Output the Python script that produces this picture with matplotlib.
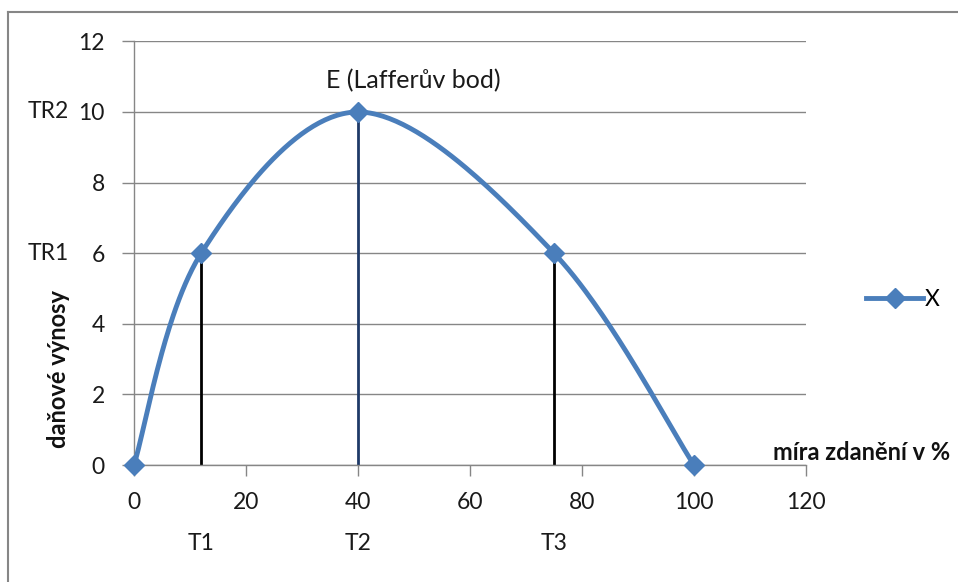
import matplotlib
matplotlib.use("Agg")
import matplotlib.pyplot as plt
from matplotlib.lines import Line2D
import numpy as np

plt.rcParams['font.family'] = ['Lato', 'DejaVu Sans']

# Laffer curve points: tax rate (%) vs. tax revenue
rate = [0, 12, 40, 75, 100]
revenue = [0, 6, 10, 6, 0]

# drop lines from the named points down to the x axis
drop_x = [12, 40, 75]
drop_top = [6, 10, 6]
drop_colors = ["black", "#1F3A68", "black"]

xticks = [0, 20, 40, 60, 80, 100, 120]
yticks = [0, 2, 4, 6, 8, 10, 12]
t_labels = ["T1", "T2", "T3"]
tr_labels = ["TR1", "TR2"]
tr_levels = [6, 10]

LINE = "#4A7EBB"
GRID = "#868686"
TXT = "#1a1a1a"
FS = 18
FS_TICK = 16.5
FS_BOLD = 17

W, H = 958, 582
fig = plt.figure(figsize=(W / 100, H / 100), dpi=100)
ax = fig.add_axes([134 / W, 1 - 465 / H, 672 / W, (465 - 41.4) / H])
ax.set_xlim(0, 120)
ax.set_ylim(0, 12)


def smooth(xs, ys, xr, yr, n=60):
    # Bezier smoothing like a spreadsheet "smoothed line", done in scaled space
    px = np.array(xs, float) / xr
    py = np.array(ys, float) / yr
    P = np.column_stack([px, py])
    P = np.vstack([P[0], P, P[-1]])
    out = []
    t = np.linspace(0, 1, n)[:, None]
    for i in range(1, len(P) - 2):
        p0, p1, p2, p3 = P[i - 1], P[i], P[i + 1], P[i + 2]
        c1 = p1 + (p2 - p0) / 6
        c2 = p2 - (p3 - p1) / 6
        seg = ((1 - t) ** 3) * p1 + 3 * ((1 - t) ** 2) * t * c1 + 3 * (1 - t) * t ** 2 * c2 + t ** 3 * p2
        out.append(seg)
    out = np.vstack(out)
    return out[:, 0] * xr, out[:, 1] * yr


# units per pixel on each axis, so the curve is smoothed in screen proportions
sx, sy = smooth(rate, revenue, 120 / 672, 12 / 423.6)

ax.vlines(drop_x, 0, drop_top, colors=drop_colors, linewidth=2, zorder=2)
ax.plot(sx, sy, color=LINE, linewidth=3.5, solid_capstyle="round", zorder=3, clip_on=False)
ax.plot(rate, revenue, linestyle="none", marker="D", markersize=10.5, color=LINE,
        zorder=4, clip_on=False)

ax.set_xticks(xticks)
ax.set_yticks(yticks)
ax.yaxis.grid(True, color=GRID, linewidth=1)
ax.set_axisbelow(True)
for s in ["top", "right"]:
    ax.spines[s].set_visible(False)
for s in ["left", "bottom"]:
    ax.spines[s].set_color(GRID)
    ax.spines[s].set_linewidth(1)
ax.tick_params(axis="x", direction="out", length=8, width=1, color=GRID, pad=11.5,
               labelsize=FS_TICK, labelcolor=TXT)
ax.tick_params(axis="y", direction="out", length=9, width=1, color=GRID, pad=12,
               labelsize=FS_TICK, labelcolor=TXT)

# rate labels under the axis
for x, lab in zip(drop_x, t_labels):
    ax.annotate(lab, xy=(x, 1 - 543 / H), xycoords=("data", "figure fraction"),
                ha="center", va="center", fontsize=FS_TICK, color=TXT)
# revenue labels left of the ticks
for y, lab in zip(tr_levels, tr_labels):
    ax.annotate(lab, xy=(28 / W, y), xycoords=("figure fraction", "data"),
                ha="left", va="center", fontsize=FS_TICK, color=TXT)

ax.text(49.8, 10.88, "E (Lafferův bod)", ha="center", va="center", fontsize=FS,
        color=TXT, clip_on=False)
ax.text(114.1, 0.34, "míra zdanění v %", ha="left", va="center", fontsize=FS_BOLD,
        fontweight="bold", color="#111111", clip_on=False)
fig.text(58.5 / W, 1 - 369 / H, "daňové výnosy", rotation=90, ha="center", va="center",
         fontsize=FS_BOLD, fontweight="bold", color="#111111")

handle = Line2D([], [], color=LINE, linewidth=3.5, marker="D", markersize=10.5)
fig.legend([handle], ["X"], loc="center left", bbox_to_anchor=(866 / W, 1 - 300 / H),
           frameon=False, fontsize=FS_TICK, handlelength=2.5, handletextpad=0.05,
           borderaxespad=0, borderpad=0)

# outer chart frame (left and top edges)
fig.add_artist(Line2D([8 / W, 8 / W], [0, 1 - 12 / H], color=GRID, linewidth=1.5))
fig.add_artist(Line2D([8 / W, 1], [1 - 12 / H, 1 - 12 / H], color=GRID, linewidth=1.5))

fig.savefig("out.png", dpi=100)
